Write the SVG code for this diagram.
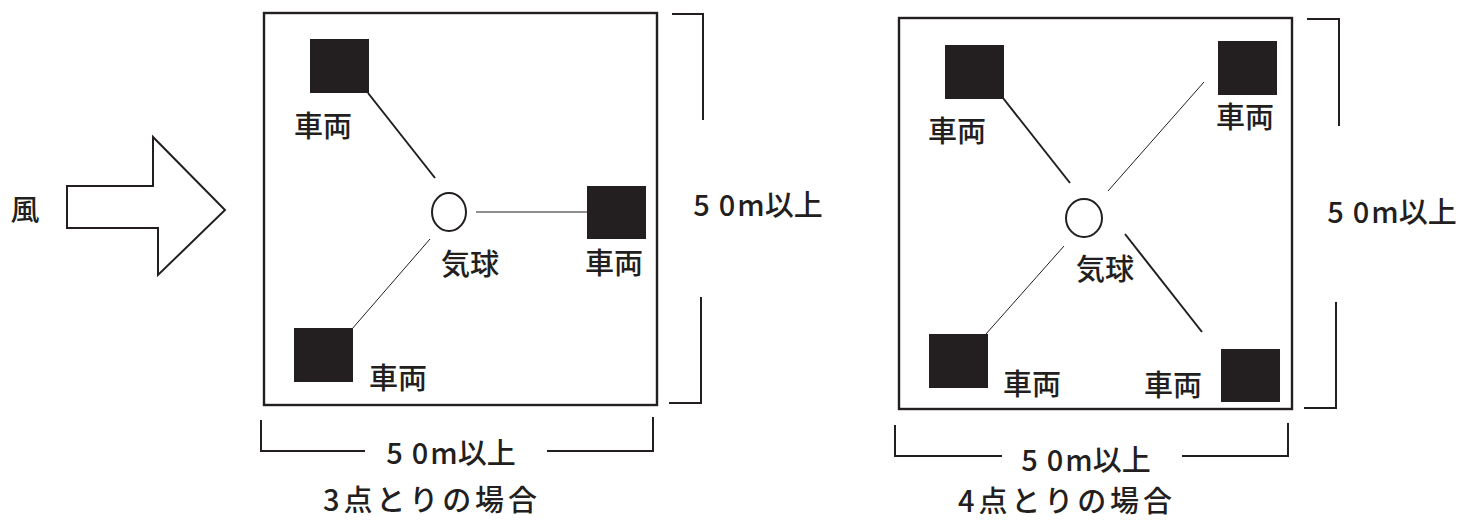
<svg xmlns="http://www.w3.org/2000/svg" width="1477" height="521" viewBox="0 0 1477 521">
<style>
.t{font-family:"Noto Sans CJK JP","Noto Sans",sans-serif;fill:#231f20;font-size:29px;font-weight:500;text-anchor:middle}
.d{font-size:29px}
.c{font-size:29px}
.box{fill:none;stroke:#231f20;stroke-width:2.4}
.br{fill:none;stroke:#231f20;stroke-width:2}
.veh{fill:#231f20}
.thick{stroke:#231f20;stroke-width:2}
.thin{stroke:#231f20;stroke-width:1}
.bal{fill:#fff;stroke:#231f20;stroke-width:2}
</style>
<rect width="1477" height="521" fill="#fff"/>
<g id="wind">
<text class="t" x="25" y="221">風</text>
<polygon points="67,186 153,186 153,137 225,210 158,275 158,228 67,228" fill="#fff" stroke="#231f20" stroke-width="2"/>
</g>
<g id="left">
<rect id="left-area" class="box" x="264" y="13" width="393" height="392"/>
<g id="connectors-left">
<line class="thick" x1="368" y1="93" x2="435" y2="178"/>
<line class="thin" x1="476" y1="212" x2="587" y2="212"/>
<line class="thin" x1="430" y1="239" x2="352" y2="329"/>
</g>
<g id="l-balloon"><ellipse class="bal" cx="449" cy="212" rx="17" ry="19"/><text class="t" x="470" y="275">気球</text></g>
<g id="l-veh1"><rect class="veh" x="310" y="39" width="59" height="54"/><text class="t" x="323" y="137">車両</text></g>
<g id="l-veh2"><rect class="veh" x="587" y="186" width="59" height="53"/><text class="t" x="614" y="274">車両</text></g>
<g id="l-veh3"><rect class="veh" x="294" y="328" width="59" height="54"/><text class="t" x="398" y="389">車両</text></g>
<g id="l-dim">
<polyline class="br" points="672,14 703,14 703,120"/>
<polyline class="br" points="701,297 701,403 669,403"/>
<text class="t d" x="758" y="216">5<tspan dx="9">0</tspan><tspan dx="2">m以上</tspan></text>
<polyline class="br" points="261,420 261,451 365,451"/>
<polyline class="br" points="547,451 653,451 653,417"/>
<text class="t d" x="451" y="464">5<tspan dx="9">0</tspan><tspan dx="2">m以上</tspan></text>
</g>
<text class="t c" x="430" y="511" textLength="214" lengthAdjust="spacing">3点とりの場合</text>
</g>
<g id="right">
<rect id="right-area" class="box" x="899" y="18" width="393" height="391"/>
<g id="connectors-right">
<line class="thick" x1="1003" y1="98" x2="1070" y2="183"/>
<line class="thin" x1="1204" y1="82" x2="1108" y2="191"/>
<line class="thin" x1="1064" y1="246" x2="986" y2="334"/>
<line class="thick" x1="1125" y1="234" x2="1202" y2="332"/>
</g>
<g id="r-balloon"><ellipse class="bal" cx="1084" cy="218" rx="18" ry="19"/><text class="t" x="1105" y="280">気球</text></g>
<g id="r-veh1"><rect class="veh" x="945" y="45" width="59" height="54"/><text class="t" x="957" y="142">車両</text></g>
<g id="r-veh2"><rect class="veh" x="1218" y="41" width="59" height="54"/><text class="t" x="1245" y="128">車両</text></g>
<g id="r-veh3"><rect class="veh" x="929" y="334" width="59" height="54"/><text class="t" x="1032" y="395">車両</text></g>
<g id="r-veh4"><rect class="veh" x="1221" y="349" width="59" height="53"/><text class="t" x="1173" y="396">車両</text></g>
<g id="r-dim">
<polyline class="br" points="1307,19 1339,19 1339,126"/>
<polyline class="br" points="1336,302 1336,408 1304,408"/>
<text class="t d" x="1392" y="223">5<tspan dx="9">0</tspan><tspan dx="2">m以上</tspan></text>
<polyline class="br" points="895,425 895,456 1002,456"/>
<polyline class="br" points="1182,456 1288,456 1288,423"/>
<text class="t d" x="1086" y="471">5<tspan dx="9">0</tspan><tspan dx="2">m以上</tspan></text>
</g>
<text class="t c" x="1065" y="512" textLength="214" lengthAdjust="spacing">4点とりの場合</text>
</g>
</svg>
